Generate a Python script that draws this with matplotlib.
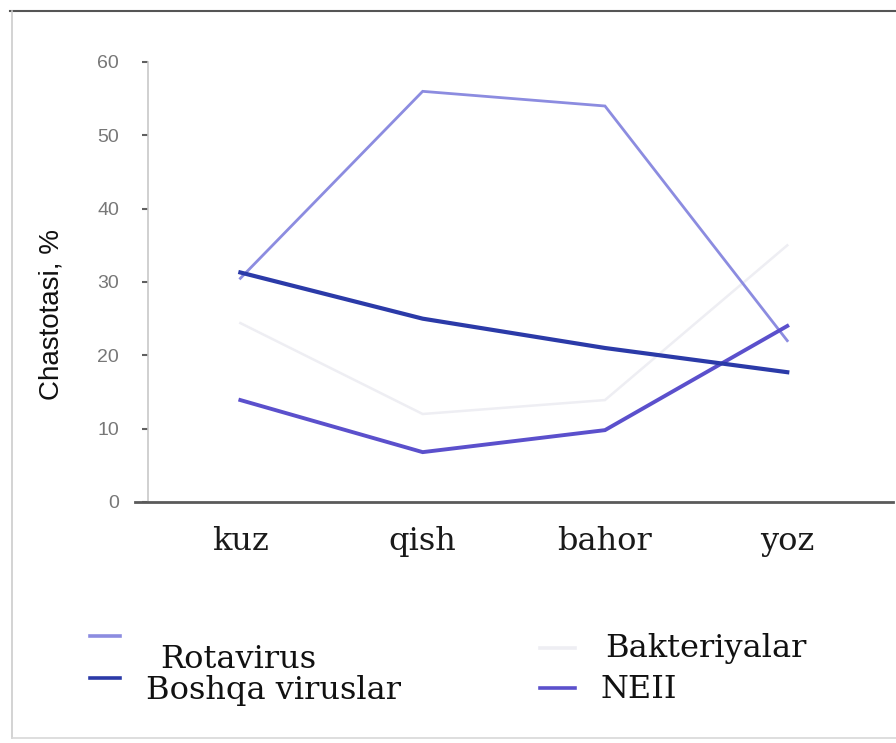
import matplotlib
matplotlib.use("Agg")
import matplotlib.pyplot as plt
from matplotlib.lines import Line2D

# Seasonal frequency (%) of diarrhoea aetiology groups
seasons = ["kuz", "qish", "bahor", "yoz"]
rotavirus = [30.5, 56, 54, 22]
boshqa_viruslar = [31.3, 25, 21, 17.7]
bakteriyalar = [24.4, 12, 13.9, 35]
neii = [13.9, 6.8, 9.8, 24]
yticks = [0, 10, 20, 30, 40, 50, 60]

series_names = ["Rotavirus", "Boshqa viruslar", "Bakteriyalar", "NEII"]
colors = {"Rotavirus": "#8c8ce0", "Boshqa viruslar": "#2b3aa8",
          "Bakteriyalar": "#eeeef3", "NEII": "#5b50cc"}
widths = {"Rotavirus": 2.0, "Boshqa viruslar": 3.0,
          "Bakteriyalar": 1.8, "NEII": 2.8}
values = {"Rotavirus": rotavirus, "Boshqa viruslar": boshqa_viruslar,
          "Bakteriyalar": bakteriyalar, "NEII": neii}

fig = plt.figure(figsize=(8.96, 7.43), dpi=100)
fig.patch.set_facecolor("white")

W, H = 896, 743
ax = fig.add_axes([135 / W, (H - 502) / H, (893 - 135) / W, 440 / H])
ax.set_facecolor("white")

x = list(range(len(seasons)))
for name in ["Bakteriyalar", "Rotavirus", "NEII", "Boshqa viruslar"]:
    ax.plot(x, values[name], color=colors[name], lw=widths[name],
            solid_joinstyle="miter", zorder=3)

ax.set_xlim(-0.578, 3.58)
ax.set_ylim(0, 60)

for s in ["top", "right"]:
    ax.spines[s].set_visible(False)
ax.spines["left"].set_position(("data", -0.506))
ax.spines["left"].set_color("#c8c8c8")
ax.spines["left"].set_linewidth(1.2)
ax.spines["bottom"].set_color("#5a5a5a")
ax.spines["bottom"].set_linewidth(2.0)

ax.set_yticks(yticks)
ax.set_yticklabels([str(v) for v in yticks], family="Liberation Sans",
                   fontsize=14, color="#777777")
ax.tick_params(axis="y", length=4, width=1.5, color="#606060", pad=17)

ax.set_xticks(x)
ax.set_xticklabels(seasons, family="DejaVu Serif", fontsize=23, color="#1a1a1a")
ax.tick_params(axis="x", length=0, pad=17)

fig.text(52 / W, 1 - 314 / H, "Chastotasi, %", rotation=90, ha="center",
         va="center", family="Liberation Sans", fontsize=20, color="#111111")

# Legend laid out in two columns below the axes
legend_items = [
    ("Rotavirus", (90, 120, 636), (160, 660)),
    ("Boshqa viruslar", (90, 120, 678), (146, 690)),
    ("Bakteriyalar", (540, 575, 648), (605, 648)),
    ("NEII", (540, 575, 688), (600, 690)),
]
for name, (hx0, hx1, hy), (tx, ty) in legend_items:
    fig.add_artist(Line2D([hx0 / W, hx1 / W], [1 - hy / H, 1 - hy / H],
                          color=colors[name], lw=2.6, transform=fig.transFigure))
    fig.text(tx / W, 1 - ty / H, name, ha="left", va="center",
             family="DejaVu Serif", fontsize=23, color="#111111")

# Outer frame
fig.add_artist(Line2D([10 / W, 1], [1 - 11 / H, 1 - 11 / H], color="#555555",
                      lw=1.5, transform=fig.transFigure))
fig.add_artist(Line2D([12 / W, 12 / W], [1 - 11 / H, 1 - 738 / H], color="#cccccc",
                      lw=1.2, transform=fig.transFigure))
fig.add_artist(Line2D([12 / W, 1], [1 - 738 / H, 1 - 738 / H], color="#d8d8d8",
                      lw=1.2, transform=fig.transFigure))

fig.savefig("out.png", dpi=100, facecolor="white")
